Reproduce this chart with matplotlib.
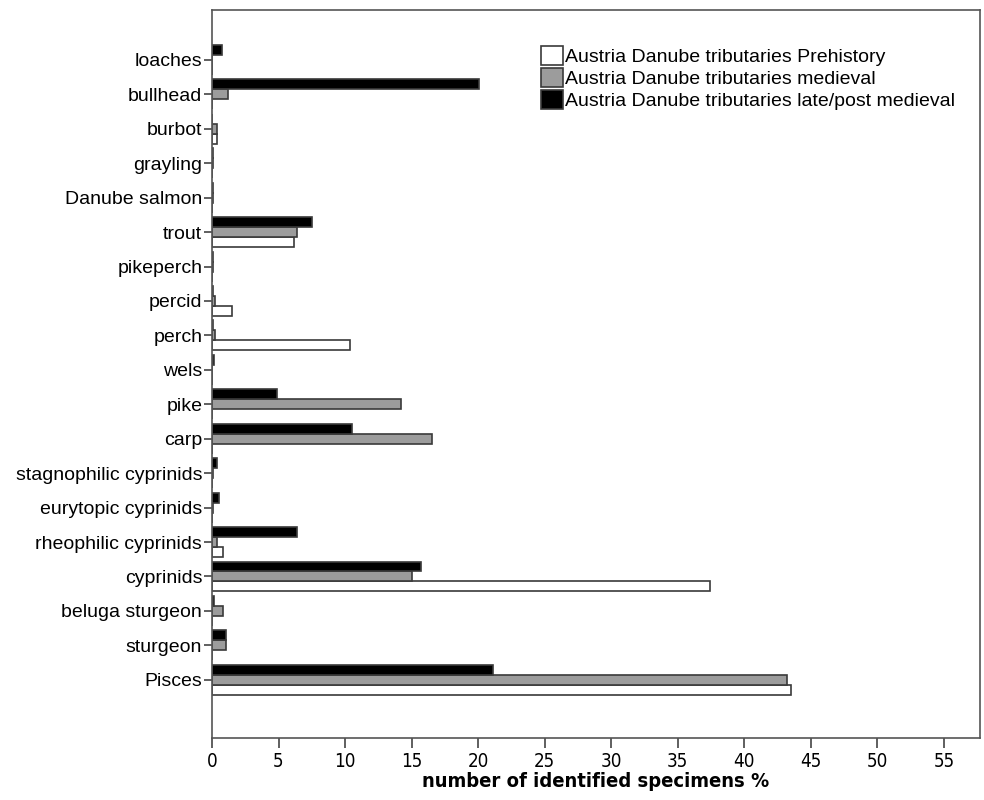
import matplotlib
matplotlib.use("Agg")
import matplotlib.pyplot as plt
import numpy as np

plt.rcParams["font.family"] = ["Liberation Sans", "DejaVu Sans"]

# categories listed bottom -> top
categories = [
    "Pisces", "sturgeon", "beluga sturgeon", "cyprinids", "rheophilic cyprinids",
    "eurytopic cyprinids", "stagnophilic cyprinids", "carp", "pike", "wels",
    "perch", "percid", "pikeperch", "trout", "Danube salmon", "grayling",
    "burbot", "bullhead", "loaches",
]
prehistory = [43.5, 0.0, 0.0, 37.4, 0.8, 0.0, 0.0, 0.0, 0.0, 0.0,
              10.4, 1.5, 0.0, 6.2, 0.0, 0.0, 0.4, 0.0, 0.0]
medieval = [43.2, 1.05, 0.85, 15.0, 0.35, 0.1, 0.1, 16.5, 14.2, 0.0,
            0.25, 0.2, 0.05, 6.4, 0.05, 0.1, 0.4, 1.2, 0.0]
late_post = [21.1, 1.05, 0.15, 15.7, 6.4, 0.5, 0.35, 10.5, 4.9, 0.15,
             0.1, 0.1, 0.1, 7.5, 0.05, 0.1, 0.0, 20.1, 0.75]
series_labels = [
    "Austria Danube tributaries Prehistory",
    "Austria Danube tributaries medieval",
    "Austria Danube tributaries late/post medieval",
]

fig = plt.figure(figsize=(9.84, 8.0), dpi=100)
ax = fig.add_axes([0.2154, 0.0775, 0.7805, 0.91])

y = np.arange(len(categories))
h = 0.29
edge = "#3a3a3a"
ax.barh(y - h, prehistory, height=h, color="white", edgecolor=edge, linewidth=1.2,
        label=series_labels[0])
ax.barh(y, medieval, height=h, color="#9c9c9c", edgecolor=edge, linewidth=1.2,
        label=series_labels[1])
ax.barh(y + h, late_post, height=h, color="black", edgecolor=edge, linewidth=1.2,
        label=series_labels[2])

ax.set_xlim(0, 57.7)
ax.set_ylim(-1.69, 19.45)
ax.set_xticks(np.arange(0, 56, 5))
ax.set_yticks(y)
ax.set_yticklabels(categories, fontsize=14)
for lab in ax.get_xticklabels():
    lab.set_family("DejaVu Sans")
    lab.set_fontstretch("condensed")
    lab.set_fontsize(13.5)
ax.tick_params(axis="x", length=7, width=1.2, color="#444444", pad=3)
ax.tick_params(axis="y", length=6, width=1.2, color="#444444", pad=1)
for sp in ax.spines.values():
    sp.set_color("#555555")
    sp.set_linewidth(1.2)

ax.set_xlabel("number of identified specimens %", fontsize=14.5, fontweight="bold",
              family="DejaVu Sans", fontstretch="condensed", labelpad=1)

ax.legend(loc="upper right", bbox_to_anchor=(1.0, 0.985), frameon=False, fontsize=14,
          handlelength=1.1, handleheight=1.15, handletextpad=0.1, labelspacing=0.08,
          borderaxespad=0.9)

fig.savefig("out.png", dpi=100)
